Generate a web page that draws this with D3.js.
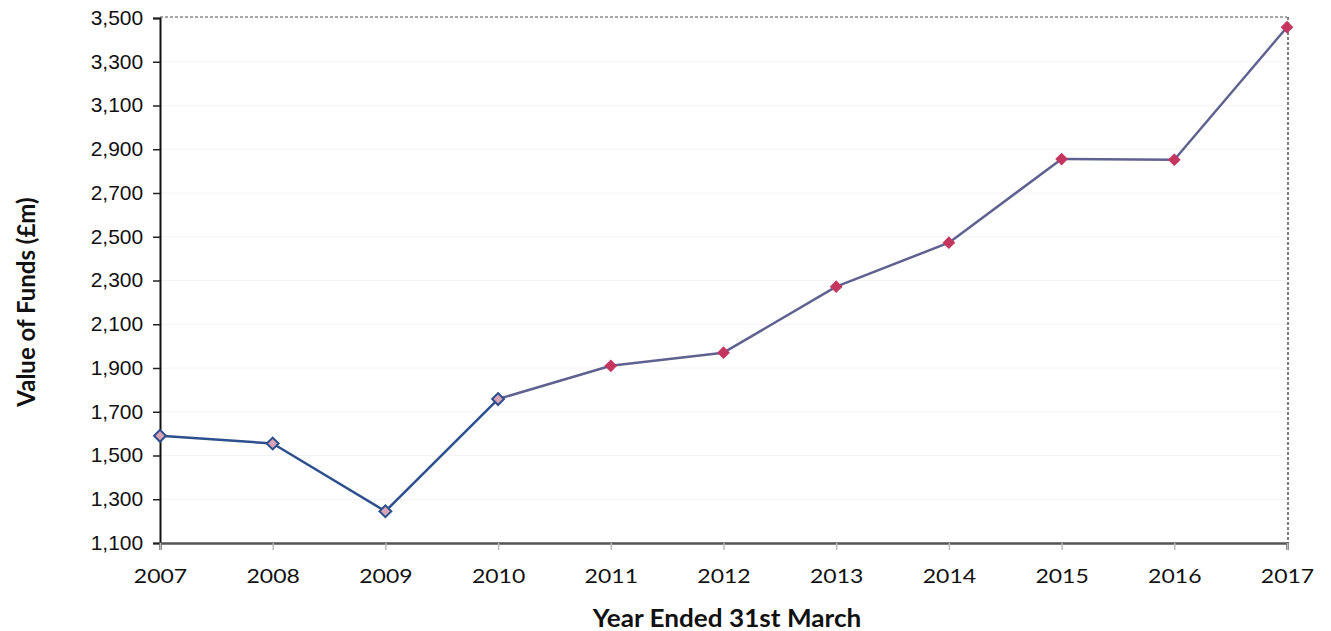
<!DOCTYPE html>
<html>
<head>
<meta charset="utf-8">
<script src="https://cdn.jsdelivr.net/npm/d3@7"></script>
<style>
  html, body { margin: 0; padding: 0; background: #fff; }
  svg { display: block; }
</style>
</head>
<body>
<svg id="chart" width="1331" height="631"></svg>
<script>
const years = [2007, 2008, 2009, 2010, 2011, 2012, 2013, 2014, 2015, 2016, 2017];
const values = [1590, 1555, 1245, 1758, 1910, 1970, 2272, 2473, 2855, 2852, 3458];
const yTicks = [1100, 1300, 1500, 1700, 1900, 2100, 2300, 2500, 2700, 2900, 3100, 3300, 3500];
const yTitle = "Value of Funds (£m)";
const xTitle = "Year Ended 31st March";

const svg = d3.select("#chart");
const pLeft = 160, pRight = 1287, pTop = 18, pBottom = 543;

const x = d3.scaleLinear().domain([2007, 2017]).range([pLeft, pRight]);
const y = d3.scaleLinear().domain([1100, 3500]).range([pBottom, pTop]);

// faint gridlines
svg.append("g").selectAll("line").data(yTicks.slice(1)).join("line")
  .attr("x1", pLeft).attr("x2", pRight)
  .attr("y1", d => y(d)).attr("y2", d => y(d))
  .attr("stroke", "#f4f4f4").attr("stroke-width", 1);

// plot border top / right (dotted)
svg.append("line").attr("x1", pLeft).attr("x2", pRight).attr("y1", pTop - 1).attr("y2", pTop - 1)
  .attr("stroke", "#8a8a8a").attr("stroke-width", 1.5).attr("stroke-dasharray", "3,2");
svg.append("line").attr("x1", pRight + 1).attr("x2", pRight + 1).attr("y1", pTop - 1).attr("y2", pBottom)
  .attr("stroke", "#555").attr("stroke-width", 1.5).attr("stroke-dasharray", "3,2");

// y axis
const yAxis = d3.axisLeft(y).tickValues(yTicks).tickFormat(d3.format(",")).tickSize(7).tickPadding(9);
const gy = svg.append("g").attr("transform", `translate(${pLeft},0)`).call(yAxis);
gy.select(".domain").attr("stroke", "#111").attr("stroke-width", 2);
gy.selectAll(".tick line").attr("stroke", "#222").attr("stroke-width", 1.5);
gy.selectAll(".tick text").attr("font-family", "Liberation Sans, Arial, sans-serif")
  .attr("font-size", 20).attr("fill", "#111")
  .attr("transform", "scale(1.05,1)");

// x axis
const xAxis = d3.axisBottom(x).tickValues(years).tickFormat(d3.format("d")).tickSize(7).tickPadding(19);
const gx = svg.append("g").attr("transform", `translate(0,${pBottom})`).call(xAxis);
gx.select(".domain").attr("stroke", "#555").attr("stroke-width", 2.5);
gx.selectAll(".tick line").attr("stroke", "#bbb").attr("stroke-width", 1.5);
gx.selectAll(".tick text").attr("font-family", "Lato, 'Open Sans', sans-serif")
  .attr("font-size", 20).attr("fill", "#111")
  .attr("transform", "scale(1.15,1)");

// line segments
const pts = years.map((yr, i) => ({ yr, v: values[i], i }));
const segs = d3.pairs(pts);
svg.append("g").selectAll("line").data(segs).join("line")
  .attr("x1", d => x(d[0].yr)).attr("y1", d => y(d[0].v))
  .attr("x2", d => x(d[1].yr)).attr("y2", d => y(d[1].v))
  .attr("stroke", d => d[0].i < 3 ? "#2c4f8e" : "#5f6290")
  .attr("stroke-width", 2.5);

// markers
svg.append("g").selectAll("path").data(pts).join("path")
  .attr("transform", d => `translate(${x(d.yr)},${y(d.v)}) rotate(45)`)
  .attr("d", d => d3.symbol().type(d3.symbolSquare).size(d.i < 4 ? 70 : 64)())
  .attr("fill", d => d.i < 4 ? "#dca3b4" : "#c4365f")
  .attr("stroke", d => d.i < 4 ? "#2c4f8e" : "#c4365f")
  .attr("stroke-width", d => d.i < 4 ? 2 : 1);

// titles
svg.append("text")
  .attr("transform", `translate(35,302) rotate(-90)`)
  .attr("text-anchor", "middle")
  .attr("font-family", "Lato, 'Open Sans', sans-serif").attr("font-weight", "bold")
  .attr("font-size", 24).attr("fill", "#111")
  .text(yTitle);

svg.append("text")
  .attr("transform", "translate(727,627) scale(1.09,1)")
  .attr("text-anchor", "middle")
  .attr("font-family", "Lato, 'Open Sans', sans-serif").attr("font-weight", "bold")
  .attr("font-size", 24).attr("fill", "#111")
  .text(xTitle);
</script>
</body>
</html>
